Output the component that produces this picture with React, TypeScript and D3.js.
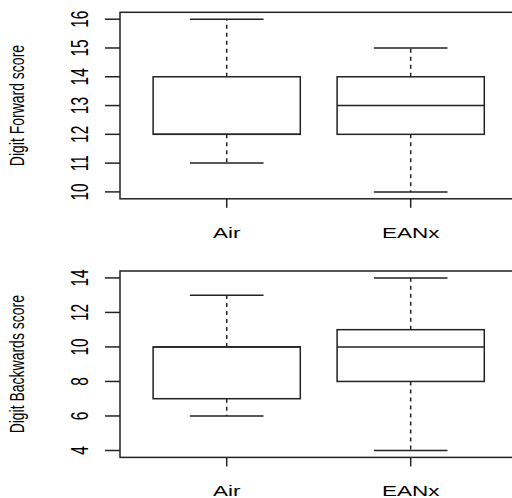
import React from "react";
import * as d3 from "d3";

// five-number summaries: [min, q1, median, q3, max]
const groups = ["Air", "EANx"];
const forwardAir = [11, 12, 12, 14, 16];
const forwardEANx = [10, 12, 13, 14, 15];
const backwardAir = [6, 7, 10, 10, 13];
const backwardEANx = [4, 8, 10, 11, 14];
const forwardTicks = [10, 11, 12, 13, 14, 15, 16];
const backwardTicks = [4, 6, 8, 10, 12, 14];

const W = 512;
const H = 498;
const left = 120;
const right = 517.4;
const ink = "#222";
const font = "'Liberation Sans', Arial, sans-serif";

const x = d3.scaleLinear().domain([0.42, 2.58]).range([left, right]);

type PanelProps = {
  title: string;
  stats: number[][];
  ticks: number[];
  domain: [number, number];
  top: number;
  bottom: number;
  labelBase: number;
};

function Panel({ title, stats, ticks, domain, top, bottom, labelBase }: PanelProps) {
  const y = d3.scaleLinear().domain(domain).range([bottom, top]);
  const mid = (top + bottom) / 2;
  return (
    <g>
      {/* frame */}
      <rect x={left} y={top} width={right - left} height={bottom - top}
        fill="none" stroke={ink} strokeWidth={1.5} />

      {/* y axis */}
      {ticks.map(t => (
        <g key={t}>
          <line x1={left - 15} x2={left} y1={y(t)} y2={y(t)} stroke={ink} strokeWidth={1.5} />
          <text transform={`translate(88,${y(t)}) scale(1.5,1) rotate(-90)`}
            textAnchor="middle" fontSize={15.5} fontFamily={font} fill="#000">{t}</text>
        </g>
      ))}
      <text transform={`translate(24,${mid}) scale(1.5,1) rotate(-90)`}
        textAnchor="middle" fontSize={14} fontFamily={font} fill="#000">{title}</text>

      {/* x axis */}
      {groups.map((g, i) => (
        <g key={g}>
          <line x1={x(i + 1)} x2={x(i + 1)} y1={bottom} y2={bottom + 9} stroke={ink} strokeWidth={1.5} />
          <text transform={`translate(${x(i + 1)},${labelBase}) scale(1.5,1)`}
            textAnchor="middle" fontSize={15} fontFamily={font} fill="#000">{g}</text>
        </g>
      ))}

      {/* boxes */}
      {stats.map((s, i) => {
        const c = x(i + 1);
        const bw = x(1.4) - x(1);
        const cw = x(1.2) - x(1);
        const [mn, q1, md, q3, mx] = s;
        return (
          <g key={i} stroke={ink} strokeWidth={1.5} fill="none">
            <line x1={c} x2={c} y1={y(q3)} y2={y(mx)} strokeDasharray="4,4" />
            <line x1={c} x2={c} y1={y(q1)} y2={y(mn)} strokeDasharray="4,4" />
            <line x1={c - cw} x2={c + cw} y1={y(mx)} y2={y(mx)} />
            <line x1={c - cw} x2={c + cw} y1={y(mn)} y2={y(mn)} />
            <rect x={c - bw} y={y(q3)} width={2 * bw} height={y(q1) - y(q3)} fill="#fff" />
            <line x1={c - bw} x2={c + bw} y1={y(md)} y2={y(md)} />
          </g>
        );
      })}
    </g>
  );
}

export default function App() {
  return (
    <svg width={W} height={H} style={{ position: "absolute", left: 0, top: 0, background: "#fff" }}>
      <rect width={W} height={H} fill="#fff" />
      <Panel title="Digit Forward score" stats={[forwardAir, forwardEANx]} ticks={forwardTicks}
        domain={[9.76, 16.24]} top={12.3} bottom={198.8} labelBase={237.5} />
      <Panel title="Digit Backwards score" stats={[backwardAir, backwardEANx]} ticks={backwardTicks}
        domain={[3.6, 14.4]} top={271} bottom={457.4} labelBase={496} />
    </svg>
  );
}
